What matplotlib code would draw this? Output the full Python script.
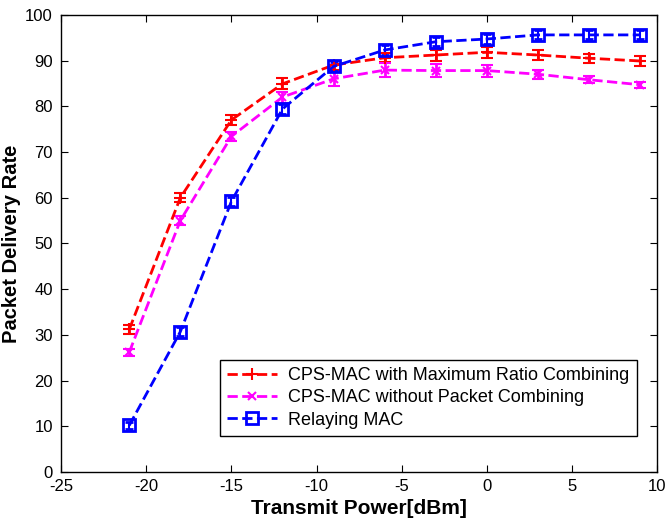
import numpy as np
import matplotlib.pyplot as plt

plt.rcParams['font.family'] = ['Liberation Sans', 'DejaVu Sans']
plt.rcParams['axes.unicode_minus'] = False

# transmit power levels (dBm)
power = [-21, -18, -15, -12, -9, -6, -3, 0, 3, 6, 9]

# packet delivery rate per scheme
pdr_mrc = [31.2, 60, 77, 84.9, 89, 90.6, 91.2, 91.8, 91.2, 90.5, 89.9]
err_mrc = [1, 1, 1, 1.2, 1, 1, 1.2, 1.2, 1, 1, 1]
pdr_nocomb = [26.2, 55, 73.4, 82, 86, 87.9, 87.8, 87.8, 87, 85.8, 84.7]
err_nocomb = [0.8, 1, 1, 1.2, 1.5, 1.5, 1.5, 1.3, 1, 0.8, 0.7]
pdr_relay = [10.2, 30.7, 59.2, 79.4, 88.7, 92.3, 94.1, 94.7, 95.6, 95.6, 95.6]
err_relay = [0.8, 1, 1, 1, 1, 1, 1, 1, 1, 1, 1]

labels = ['CPS-MAC with Maximum Ratio Combining',
          'CPS-MAC without Packet Combining',
          'Relaying MAC']

fig = plt.figure(figsize=(6.65, 5.28), dpi=100)
ax = fig.add_axes([0.092, 0.106, 0.896, 0.866])

ax.errorbar(power, pdr_mrc, yerr=err_mrc, color='#ff0000', ls='--', lw=2,
            marker='+', ms=8, mew=1.5, capsize=4, elinewidth=2, capthick=2,
            label=labels[0])
ax.errorbar(power, pdr_nocomb, yerr=err_nocomb, color='#ff00ff', ls='--', lw=2,
            marker='x', ms=6, mew=1.5, capsize=4, elinewidth=2, capthick=2,
            label=labels[1])
ax.errorbar(power, pdr_relay, yerr=err_relay, color='#0000ff', ls='--', lw=2,
            marker='s', ms=8, mfc='none', mew=2, capsize=3, elinewidth=1.5,
            capthick=1.5, label=labels[2])

ax.set_xlim(-25, 10)
ax.set_ylim(0, 100)
ax.set_xticks(np.arange(-25, 11, 5))
ax.set_yticks(np.arange(0, 101, 10))
ax.tick_params(direction='in', top=True, right=True, labelsize=12, length=5)
ax.tick_params(axis='y', pad=6)
ax.tick_params(axis='x', pad=5)
for s in ax.spines.values():
    s.set_linewidth(1)

ax.set_xlabel('Transmit Power[dBm]', fontsize=15, fontweight='bold')
ax.set_ylabel('Packet Delivery Rate', fontsize=14.5, fontweight='bold')
ax.xaxis.set_label_coords(0.5, -0.058)
ax.yaxis.set_label_coords(-0.068, 0.5)

handles, labs = ax.get_legend_handles_labels()
handles = [h[0] for h in handles]
leg = ax.legend(handles, labs, loc='lower right', bbox_to_anchor=(0.966, 0.079),
                fontsize=13, fancybox=False, edgecolor='black', framealpha=1,
                handlelength=2.8, borderaxespad=0, labelspacing=0.3,
                borderpad=0.4, handletextpad=0.6)
leg.get_frame().set_linewidth(1)

fig.savefig('out.png', dpi=100)
